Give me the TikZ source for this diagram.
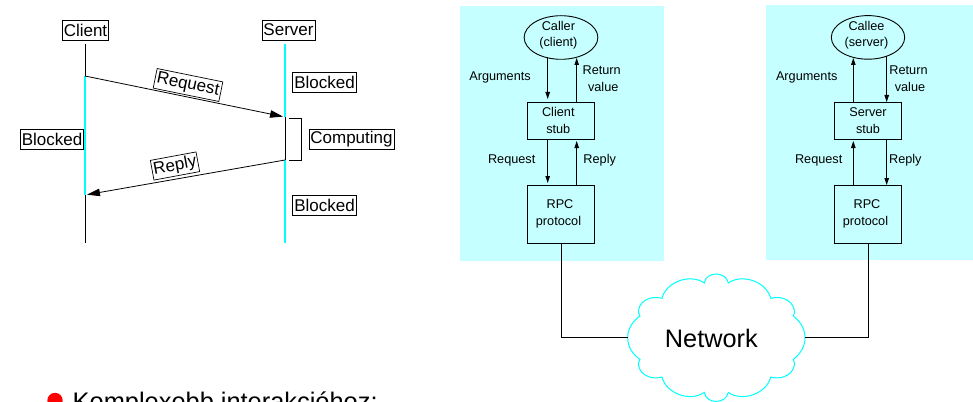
\documentclass[tikz,border=0pt]{standalone}
\usepackage{fontspec}
\setmainfont{Liberation Sans}
\usetikzlibrary{arrows.meta,shapes.geometric}
\definecolor{panelc}{HTML}{C6FFFF}
\definecolor{lifec}{HTML}{00FFFF}
\tikzset{
  tag/.style={draw=black,line width=0.7pt,inner xsep=1.5pt,inner ysep=0pt,minimum height=20pt,font=\fontsize{17}{20}\selectfont,text=black},
  panel/.style={fill=panelc,draw=none},
  blk/.style={draw=black,line width=0.9pt,inner sep=0pt},
  lbl/.style={inner sep=0pt,align=center,font=\fontsize{12.7}{16.8}\selectfont,text=black},
  life/.style={draw=lifec,line width=1.1pt},
  act/.style={draw=black,line width=0.9pt},
  bigarrow/.style={draw=black,line width=0.8pt,shorten >=2pt,-{Triangle[length=13pt,width=7.5pt]}},
  smallarrow/.style={draw=black,line width=0.9pt,-{Triangle[length=7pt,width=4.5pt]}},
  wire/.style={draw=black,line width=0.9pt}
}
\begin{document}
\begin{tikzpicture}[x=1pt,y=-1pt]
\useasboundingbox (0,0) rectangle (973,401);
\clip (0,0) rectangle (973,401);
% panels
\fill[panel] (460,6) rectangle (664,261);
\fill[panel] (766,5) rectangle (973,260);
% sequence diagram
\node[tag,minimum width=45.6pt] (client) at (85.5,30) {Client};
\node[tag,minimum width=53pt] (server) at (288.5,30) {Server};
\coordinate (ct) at (85,44);
\coordinate (c1) at (85,76);
\coordinate (c2) at (85,195);
\coordinate (cb) at (85,243);
\coordinate (st) at (285,44);
\coordinate (s1) at (285,117);
\coordinate (s2) at (285,160);
\coordinate (sb) at (285,243);
\draw[life] (c1) -- (c2);
\draw[act] (ct) -- (c1);
\draw[act] (c2) -- (cb);
\draw[life] (st) -- (s1);
\draw[life] (s2) -- (sb);
\draw[act] (s1) -- (s2);
\draw[bigarrow] (c1) -- (s1);
\draw[bigarrow] (s2) -- (c2);
\coordinate (b1) at (289,118);
\coordinate (b2) at (301,118);
\coordinate (b3) at (301,160);
\coordinate (b4) at (289,160);
\draw[wire] (b1) -- (b2) -- (b3) -- (b4);
\node[tag,minimum width=63pt] (blk1) at (324.5,82.5) {Blocked};
\node[tag,minimum width=62pt] (blk2) at (52,139.5) {Blocked};
\node[tag,minimum width=85pt] (comp) at (351.5,139.5) {Computing};
\node[tag,minimum width=63pt] (blk3) at (324.5,205) {Blocked};
\node[tag,rotate=-11.5,minimum width=67pt] (reqt) at (188,85) {Request};
\node[tag,rotate=10.5,minimum width=46pt] (rept) at (175,166) {Reply};
% left stack
\node[blk,ellipse,minimum width=73.7pt,minimum height=43.6pt] (caller) at (561,37.5) {};
\node[blk,rectangle,minimum width=66.6pt,minimum height=36.7pt] (cstub) at (561,120.7) {};
\node[blk,rectangle,minimum width=66.6pt,minimum height=58pt] (cproto) at (561,214) {};
\node[lbl] (callert) at (558.4,35.3) {Caller\\(client)};
\node[lbl] (cstubt) at (558.3,120.5) {Client\\stub};
\node[lbl] (cprotot) at (558.5,214) {\hspace*{3pt}RPC\\protocol};
\node[lbl] at (500,77.7) {Arguments};
\node[lbl] at (601.7,79) {Return\\\hspace*{3pt}value};
\node[lbl] at (511.7,160.7) {Request};
\node[lbl] at (599.7,160.7) {Reply};
\coordinate (a1) at (547.7,57);
\coordinate (a2) at (547.7,99);
\coordinate (a3) at (576.7,102.3);
\coordinate (a4) at (576.7,58);
\coordinate (a5) at (547.7,139);
\coordinate (a6) at (547.7,183);
\coordinate (a7) at (576.7,185);
\coordinate (a8) at (576.7,141);
\draw[smallarrow] (a1) -- (a2);
\draw[smallarrow] (a3) -- (a4);
\draw[smallarrow] (a5) -- (a6);
\draw[smallarrow] (a7) -- (a8);
% right stack
\node[blk,ellipse,minimum width=73.4pt,minimum height=43.6pt] (callee) at (868,37.4) {};
\node[blk,rectangle,minimum width=67pt,minimum height=36.7pt] (sstub) at (868.2,120.7) {};
\node[blk,rectangle,minimum width=67pt,minimum height=58pt] (sproto) at (868.2,214) {};
\node[lbl] (calleet) at (866.5,35.3) {Callee\\(server)};
\node[lbl] (sstubt) at (868,120.5) {Server\\stub};
\node[lbl] (sprotot) at (865.5,214) {\hspace*{3pt}RPC\\protocol};
\node[lbl] at (806.7,77.7) {Arguments};
\node[lbl] at (908.5,79) {Return\\\hspace*{3pt}value};
\node[lbl] at (818.7,160.7) {Request};
\node[lbl] at (905.3,160.7) {Reply};
\coordinate (r1) at (853.3,102.3);
\coordinate (r2) at (853.3,58);
\coordinate (r3) at (886.7,56);
\coordinate (r4) at (886.7,102);
\coordinate (r5) at (853.3,185);
\coordinate (r6) at (853.3,141);
\coordinate (r7) at (886.7,139);
\coordinate (r8) at (886.7,185);
\draw[smallarrow] (r1) -- (r2);
\draw[smallarrow] (r3) -- (r4);
\draw[smallarrow] (r5) -- (r6);
\draw[smallarrow] (r7) -- (r8);
% cloud
\draw[draw=lifec,line width=1pt,fill=white] (627.7,337.7)
  .. controls (627.7,328) and (633,321) .. (640,316)
  .. controls (635,309) and (643,294) .. (662,298.3)
  .. controls (666,282) and (690,273) .. (704.3,283)
  .. controls (706,271) and (726,271) .. (728.3,283)
  .. controls (742.6,273) and (766.6,282) .. (770.7,298.3)
  .. controls (789.6,294) and (797.6,309) .. (793.3,316)
  .. controls (799.6,321) and (805,328) .. (805,337.7)
  .. controls (805,347.4) and (799.6,354.4) .. (793.3,359.4)
  .. controls (797.6,366.4) and (789.6,381.4) .. (770.7,377.1)
  .. controls (766.6,393.4) and (742.6,402.4) .. (728.3,392.4)
  .. controls (726,404.4) and (706,404.4) .. (704.3,392.4)
  .. controls (690,402.4) and (666,393.4) .. (662,377.1)
  .. controls (643,381.4) and (635,366.4) .. (640,359.4)
  .. controls (633,354.4) and (627.7,347.4) .. (627.7,337.7) -- cycle;
\node[inner sep=0pt,font=\fontsize{25.3}{28}\selectfont] (net) at (711.3,338) {Network};
\coordinate (cloudl) at (627.7,337.7);
\coordinate (cloudr) at (805,337.7);
\draw[wire] (cproto.south) |- (cloudl);
\draw[wire] (sproto.south) |- (cloudr);
% bullet
\fill[red] (55,400.5) circle (7.7);
\node[anchor=base west,inner sep=0pt,font=\fontsize{25.4}{28}\selectfont] (bt) at (72.5,410) {Komplexebb interakcióhoz:};
\end{tikzpicture}
\end{document}
